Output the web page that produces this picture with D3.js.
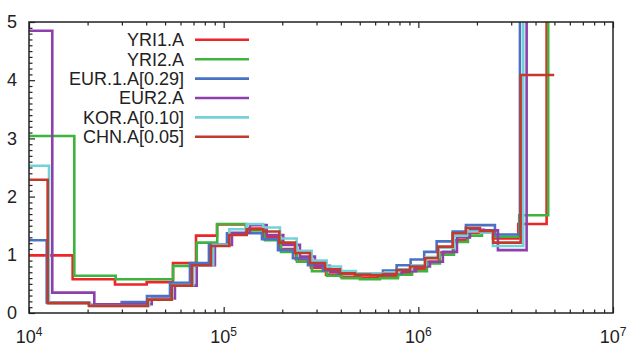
<!DOCTYPE html>
<html>
<head>
<meta charset="utf-8">
<script src="https://cdn.jsdelivr.net/npm/d3@7"></script>
<style>
  body { margin: 0; background: #fff; }
  svg { display: block; }
  text { font-family: "Liberation Sans", Arial, Helvetica, sans-serif; fill: #222; }
</style>
</head>
<body>
<div id="chart"></div>
<script>
// --- Data (step starts; the last time is where the step ends) ---
const yri1Time = [1.0e4, 1.676e4, 2.765e4, 4.022e4, 5.49e4, 7.21e4, 9.24e4, 1.302e5, 1.61e5, 1.947e5, 2.351e5, 2.808e5, 3.353e5, 4.005e5, 5.012e5, 6.201e5, 7.857e5, 9.27e5, 1.094e6, 1.276e6, 1.506e6, 1.777e6, 2.097e6, 2.416e6, 3.26e6, 4.56e6, 1e7];
const yri1Ne = [0.99, 0.58, 0.49, 0.53, 0.86, 1.33, 1.52, 1.45, 1.30, 1.10, 0.92, 0.78, 0.66, 0.62, 0.61, 0.63, 0.68, 0.76, 0.88, 1.04, 1.25, 1.38, 1.40, 1.28, 1.53, 20];

const yri2Time = [1.0e4, 1.709e4, 2.788e4, 5.5e4, 7.27e4, 9.27e4, 1.302e5, 1.63e5, 1.97e5, 2.379e5, 2.841e5, 3.393e5, 4.052e5, 5.012e5, 6.35e5, 7.857e5, 9.27e5, 1.107e6, 1.291e6, 1.524e6, 1.798e6, 2.122e6, 2.474e6, 3.298e6, 4.647e6, 1e7];
const yri2Ne = [3.04, 0.64, 0.58, 0.81, 1.21, 1.53, 1.42, 1.25, 1.05, 0.88, 0.72, 0.64, 0.60, 0.58, 0.60, 0.66, 0.72, 0.85, 1.00, 1.22, 1.33, 1.38, 1.31, 1.68, 20];

const eur1Time = [1.0e4, 1.233e4, 2.033e4, 2.993e4, 4.037e4, 5.30e4, 6.71e4, 8.40e4, 1.040e5, 1.573e5, 1.901e5, 2.269e5, 2.710e5, 3.236e5, 3.865e5, 4.724e5, 5.641e5, 6.58e5, 7.737e5, 9.13e5, 1.072e6, 1.242e6, 1.501e6, 1.756e6, 2.474e6, 3.326e6, 1e7];
const eur1Ne = [1.25, 0.18, 0.14, 0.19, 0.29, 0.52, 0.86, 1.17, 1.37, 1.27, 1.08, 0.94, 0.82, 0.73, 0.68, 0.67, 0.68, 0.73, 0.82, 0.92, 1.05, 1.23, 1.40, 1.51, 1.35, 20];

const eur2Time = [1.0e4, 1.317e4, 2.165e4, 4.268e4, 5.62e4, 7.27e4, 9.02e4, 1.103e5, 1.365e5, 1.663e5, 2.024e5, 2.465e5, 2.944e5, 3.516e5, 4.198e5, 5.012e5, 5.985e5, 7.147e5, 8.24e5, 9.72e5, 1.147e6, 1.337e6, 1.579e6, 1.841e6, 2.173e6, 2.563e6, 3.6e6, 1e7];
const eur2Ne = [4.85, 0.35, 0.15, 0.25, 0.47, 0.82, 1.17, 1.38, 1.51, 1.34, 1.17, 0.97, 0.81, 0.71, 0.68, 0.66, 0.66, 0.69, 0.72, 0.80, 0.88, 1.05, 1.30, 1.43, 1.42, 1.08, 20];

const korTime = [1.0e4, 1.267e4, 2.057e4, 4.133e4, 5.458e4, 6.98e4, 8.84e4, 1.069e5, 1.313e5, 1.597e5, 1.947e5, 2.371e5, 2.831e5, 3.381e5, 4.005e5, 4.781e5, 5.708e5, 6.737e5, 7.952e5, 9.27e5, 1.094e6, 1.276e6, 1.524e6, 1.777e6, 2.097e6, 2.416e6, 3.459e6, 1e7];
const korNe = [2.53, 0.17, 0.12, 0.24, 0.48, 0.82, 1.17, 1.44, 1.53, 1.47, 1.28, 1.07, 0.90, 0.80, 0.72, 0.68, 0.68, 0.70, 0.75, 0.82, 0.96, 1.12, 1.33, 1.40, 1.38, 1.15, 20];

const chnTime = [1.0e4, 1.247e4, 2.033e4, 4.07e4, 5.41e4, 6.87e4, 8.61e4, 1.069e5, 1.313e5, 1.597e5, 1.931e5, 2.324e5, 2.775e5, 3.314e5, 3.957e5, 4.724e5, 5.641e5, 6.58e5, 7.737e5, 9.06e5, 1.081e6, 1.261e6, 1.501e6, 1.756e6, 2.072e6, 2.425e6, 3.354e6, 4.989e6];
const chnNe = [2.29, 0.17, 0.12, 0.23, 0.47, 0.82, 1.15, 1.34, 1.44, 1.40, 1.21, 1.03, 0.86, 0.75, 0.68, 0.66, 0.65, 0.67, 0.74, 0.80, 0.94, 1.14, 1.37, 1.46, 1.41, 1.21, 4.09];

const seriesNames = ["YRI1.A", "YRI2.A", "EUR.1.A[0.29]", "EUR2.A", "KOR.A[0.10]", "CHN.A[0.05]"];
const seriesColors = ["#ee2528", "#3db43d", "#4a72c4", "#8d40ab", "#72d2d8", "#c13a2b"];

const xTicks = [1e4, 1e5, 1e6, 1e7];
const xTickExp = ["4", "5", "6", "7"];
const yTicks = [0, 1, 2, 3, 4, 5];

const series = [
  { time: yri1Time, ne: yri1Ne },
  { time: yri2Time, ne: yri2Ne },
  { time: eur1Time, ne: eur1Ne },
  { time: eur2Time, ne: eur2Ne },
  { time: korTime, ne: korNe },
  { time: chnTime, ne: chnNe }
].map((s, i) => ({ ...s, name: seriesNames[i], color: seriesColors[i] }));

// --- Layout ---
const width = 635, height = 354;
const margin = { top: 22, right: 22, bottom: 41, left: 29 };
const innerWidth = width - margin.left - margin.right;
const innerHeight = height - margin.top - margin.bottom;

const svg = d3.select("#chart").append("svg")
  .attr("width", width)
  .attr("height", height);

const g = svg.append("g")
  .attr("transform", `translate(${margin.left},${margin.top})`);

const xScale = d3.scaleLog().domain([1e4, 1e7]).range([0, innerWidth]);
const yScale = d3.scaleLinear().domain([0, 5]).range([innerHeight, 0]);

g.append("clipPath").attr("id", "plot-clip")
  .append("rect").attr("width", innerWidth).attr("height", innerHeight);

// minor tick values
const xMinor = [];
[1e4, 1e5, 1e6].forEach(d => { for (let k = 2; k <= 9; k++) xMinor.push(d * k); });
const yMinor = d3.range(0, 50).map(i => i / 10).filter(v => Math.abs(v - Math.round(v)) > 1e-6);

const styleAxis = sel => sel
  .call(s => s.select(".domain").remove())
  .call(s => s.selectAll(".tick line").attr("stroke", "#222").attr("stroke-width", 1.2));

// x ticks, bottom and top
g.append("g").attr("transform", `translate(0,${innerHeight})`)
  .call(d3.axisBottom(xScale).tickValues(xTicks).tickSizeInner(-6).tickSizeOuter(0).tickFormat(""))
  .call(styleAxis);
g.append("g").attr("transform", `translate(0,${innerHeight})`)
  .call(d3.axisBottom(xScale).tickValues(xMinor).tickSizeInner(-3.5).tickSizeOuter(0).tickFormat(""))
  .call(styleAxis);
g.append("g")
  .call(d3.axisTop(xScale).tickValues(xTicks).tickSizeInner(-6).tickSizeOuter(0).tickFormat(""))
  .call(styleAxis);
g.append("g")
  .call(d3.axisTop(xScale).tickValues(xMinor).tickSizeInner(-3.5).tickSizeOuter(0).tickFormat(""))
  .call(styleAxis);

// x labels with superscript exponents
const xLab = g.append("g").selectAll("text")
  .data(xTicks)
  .join("text")
  .attr("x", d => xScale(d))
  .attr("y", innerHeight + 30)
  .attr("text-anchor", "middle")
  .attr("font-size", "18px");
xLab.append("tspan").text("10");
xLab.append("tspan").attr("dy", "-7").attr("font-size", "12px").text((d, i) => xTickExp[i]);

// y ticks
g.append("g")
  .call(d3.axisLeft(yScale).tickValues(yTicks).tickSizeInner(-6).tickSizeOuter(0).tickPadding(12).tickFormat(d3.format("d")))
  .call(styleAxis)
  .call(s => s.selectAll(".tick text").attr("font-size", "18px").attr("fill", "#222")
    .attr("font-family", "'Liberation Sans', Arial, sans-serif"));
g.append("g")
  .call(d3.axisLeft(yScale).tickValues(yMinor).tickSizeInner(-3.5).tickSizeOuter(0).tickFormat(""))
  .call(styleAxis);

// --- Step lines ---
const line = d3.line()
  .x(d => xScale(d[0]))
  .y(d => yScale(d[1]))
  .curve(d3.curveStepAfter);

const plot = g.append("g").attr("clip-path", "url(#plot-clip)");
plot.selectAll(".series")
  .data(series)
  .join("path")
  .attr("class", "series")
  .attr("fill", "none")
  .attr("stroke", d => d.color)
  .attr("stroke-width", 2.6)
  .attr("d", d => line(d.time.map((t, i) => [t, d.ne[Math.min(i, d.ne.length - 1)]])));

// frame
g.append("rect")
  .attr("width", innerWidth)
  .attr("height", innerHeight)
  .attr("fill", "none")
  .attr("stroke", "#222")
  .attr("stroke-width", 1.5);

// --- Legend ---
const legend = g.append("g");
const rows = legend.selectAll("g")
  .data(series)
  .join("g")
  .attr("transform", (d, i) => `translate(0,${17.8 + i * 19.4})`);
rows.append("text")
  .attr("x", 155)
  .attr("dy", "0.35em")
  .attr("text-anchor", "end")
  .attr("font-size", "18px")
  .text(d => d.name);
rows.append("line")
  .attr("x1", 166).attr("x2", 220)
  .attr("stroke", d => d.color)
  .attr("stroke-width", 2.6);
</script>
</body>
</html>
